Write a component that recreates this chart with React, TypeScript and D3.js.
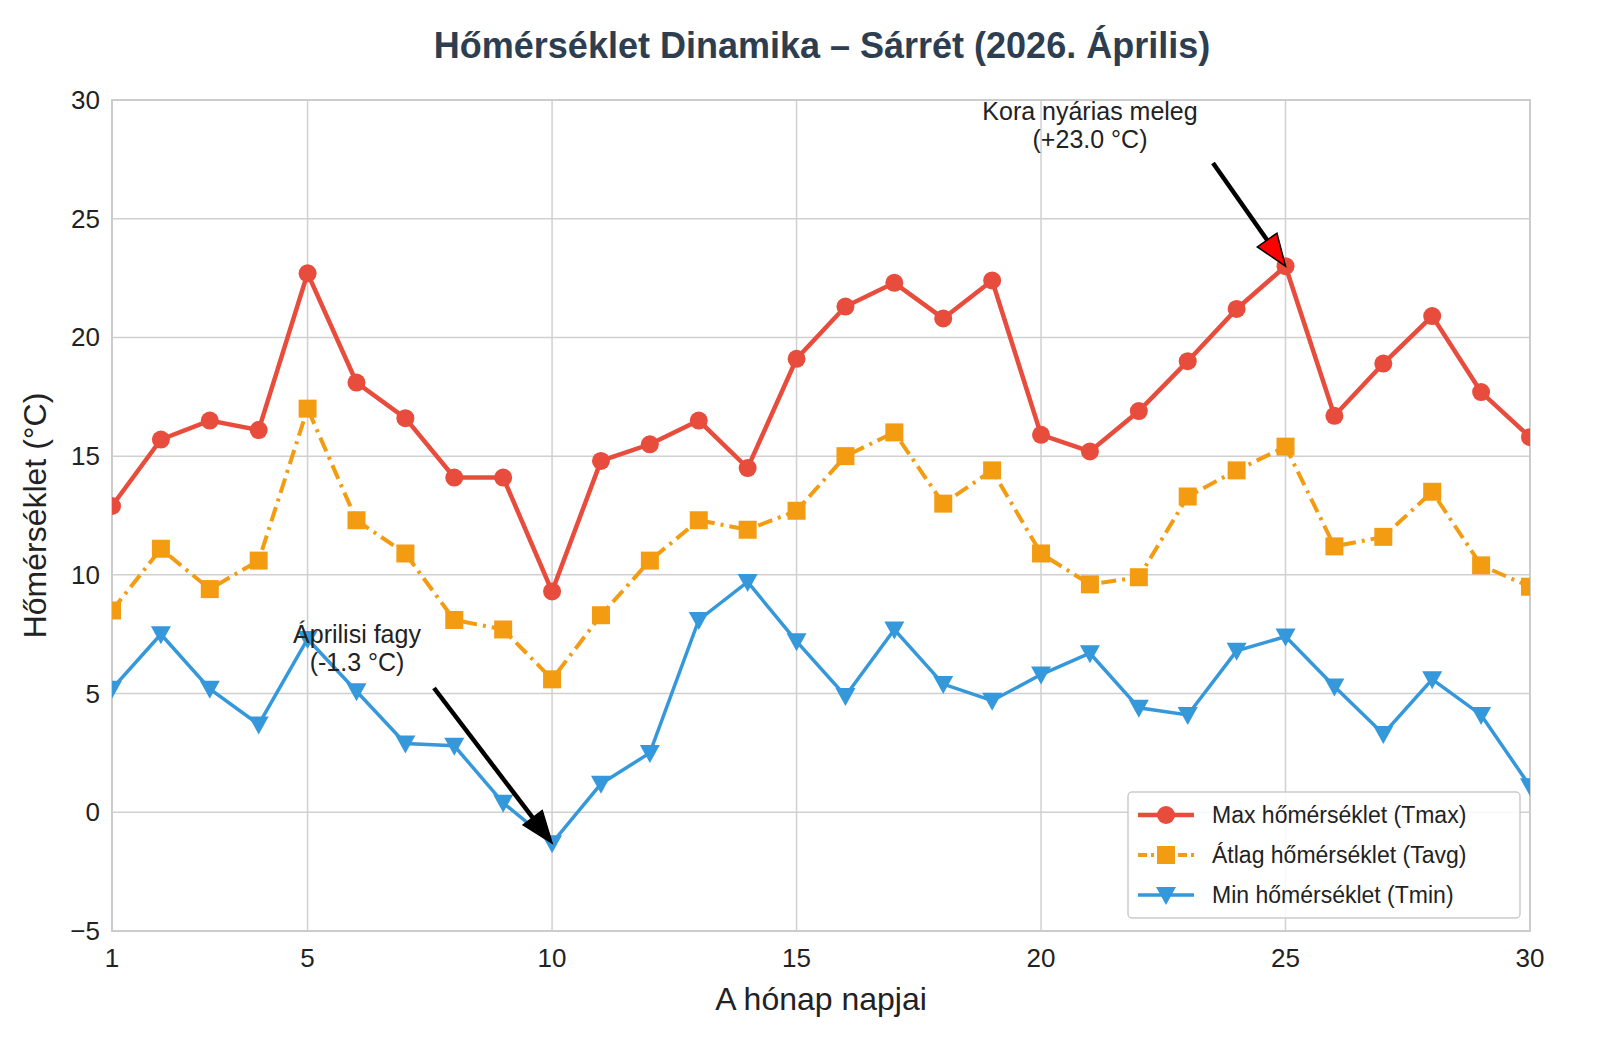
import * as d3 from "d3"
import * as React from "react"

const days = d3.range(1, 31)
const tmax = [12.9, 15.7, 16.5, 16.1, 22.7, 18.1, 16.6, 14.1, 14.1, 9.3, 14.8, 15.5, 16.5, 14.5, 19.1, 21.3, 22.3, 20.8, 22.4, 15.9, 15.2, 16.9, 19.0, 21.2, 23.0, 16.7, 18.9, 20.9, 17.7, 15.8]
const tavg = [8.5, 11.1, 9.4, 10.6, 17.0, 12.3, 10.9, 8.1, 7.7, 5.6, 8.3, 10.6, 12.3, 11.9, 12.7, 15.0, 16.0, 13.0, 14.4, 10.9, 9.6, 9.9, 13.3, 14.4, 15.4, 11.2, 11.6, 13.5, 10.4, 9.5]
const tmin = [5.2, 7.5, 5.2, 3.7, 7.3, 5.1, 2.9, 2.8, 0.4, -1.3, 1.2, 2.5, 8.1, 9.7, 7.2, 4.9, 7.7, 5.4, 4.7, 5.8, 6.7, 4.4, 4.1, 6.8, 7.4, 5.3, 3.3, 5.6, 4.1, 1.1]
const xTicks = [1, 5, 10, 15, 20, 25, 30]
const yTicks = [-5, 0, 5, 10, 15, 20, 25, 30]

const FONT = "Arial, 'Liberation Sans', sans-serif"

function Marker({ kind, x, y, color }) {
  if (kind === "circle") return <circle cx={x} cy={y} r={9} fill={color} />
  if (kind === "square") return <rect x={x - 9} y={y - 9} width={18} height={18} fill={color} />
  return <path d={`M${x - 10},${y - 8} L${x + 10},${y - 8} L${x},${y + 10} Z`} fill={color} />
}

function Arrow({ x1, y1, x2, y2, fill }) {
  const a = Math.atan2(y2 - y1, x2 - x1)
  const L = 32, W = 12
  const bx = x2 - L * Math.cos(a), by = y2 - L * Math.sin(a)
  const px = -Math.sin(a) * W, py = Math.cos(a) * W
  return (
    <g>
      <line x1={x1} y1={y1} x2={bx} y2={by} stroke="#000" strokeWidth={4.5} />
      <path d={`M${x2},${y2} L${bx + px},${by + py} L${bx - px},${by - py} Z`} fill={fill} stroke="#000" strokeWidth={1.5} />
    </g>
  )
}

export default function App() {
  const W = 1600, H = 1056
  const m = { l: 112, r: 1530, t: 100, b: 931 }
  const x = d3.scaleLinear().domain([1, 30]).range([m.l, m.r])
  const y = d3.scaleLinear().domain([-5, 30]).range([m.b, m.t])
  const line = d3.line<number>().x((_, i) => x(days[i])).y(d => y(d))
  const series = [
    { data: tmax, color: "#e74c3c", kind: "circle", dash: null, w: 4.5, label: "Max hőmérséklet (Tmax)" },
    { data: tavg, color: "#f39c12", kind: "square", dash: "15,6,3,6", w: 4, label: "Átlag hőmérséklet (Tavg)" },
    { data: tmin, color: "#3498db", kind: "tri", dash: null, w: 3.5, label: "Min hőmérséklet (Tmin)" },
  ]
  return (
    <svg width={W} height={H} style={{ display: "block", margin: -8 }} fontFamily={FONT}>
      <rect width={W} height={H} fill="#fff" />
      <defs>
        <clipPath id="c"><rect x={m.l} y={m.t} width={m.r - m.l} height={m.b - m.t} /></clipPath>
      </defs>
      {xTicks.map(t => <line key={"gx" + t} x1={x(t)} x2={x(t)} y1={m.t} y2={m.b} stroke="#d0d0d0" strokeWidth={1.5} />)}
      {yTicks.map(t => <line key={"gy" + t} x1={m.l} x2={m.r} y1={y(t)} y2={y(t)} stroke="#d0d0d0" strokeWidth={1.5} />)}
      <rect x={m.l} y={m.t} width={m.r - m.l} height={m.b - m.t} fill="none" stroke="#cccccc" strokeWidth={2} />
      {xTicks.map(t => <text key={"tx" + t} x={x(t)} y={m.b + 36} textAnchor="middle" fontSize={26} fill="#222">{t}</text>)}
      {yTicks.map(t => <text key={"ty" + t} x={m.l - 12} y={y(t) + 9} textAnchor="end" fontSize={26} fill="#222">{t < 0 ? "−" + -t : t}</text>)}
      <g clipPath="url(#c)">
        {series.map(s => (
          <g key={s.label}>
            <path d={line(s.data)} fill="none" stroke={s.color} strokeWidth={s.w} strokeDasharray={s.dash} />
            {s.data.map((v, i) => <Marker key={i} kind={s.kind} x={x(days[i])} y={y(v)} color={s.color} />)}
          </g>
        ))}
      </g>
      <text x={822} y={58} textAnchor="middle" fontSize={36} fontWeight="bold" fill="#2c3e50">Hőmérséklet Dinamika – Sárrét (2026. Április)</text>
      <text x={(m.l + m.r) / 2} y={1010} textAnchor="middle" fontSize={32} fill="#222">A hónap napjai</text>
      <text transform={`translate(46,${(m.t + m.b) / 2}) rotate(-90)`} textAnchor="middle" fontSize={32} fill="#222">Hőmérséklet (°C)</text>
      <text x={1090} y={120} textAnchor="middle" fontSize={25} fill="#222">Kora nyárias meleg</text>
      <text x={1090} y={148} textAnchor="middle" fontSize={25} fill="#222">(+23.0 °C)</text>
      <Arrow x1={1213} y1={163} x2={x(25)} y2={y(23)} fill="red" />
      <text x={357} y={643} textAnchor="middle" fontSize={25} fill="#222">Áprilisi fagy</text>
      <text x={357} y={671} textAnchor="middle" fontSize={25} fill="#222">(-1.3 °C)</text>
      <Arrow x1={434} y1={688} x2={x(10)} y2={y(-1.3)} fill="#000" />
      <g transform="translate(1128,792)">
        <rect width={392} height={126} rx={4} fill="#fff" fillOpacity={0.85} stroke="#cccccc" strokeWidth={1.5} />
        {series.map((s, i) => (
          <g key={s.label} transform={`translate(0,${23 + i * 40})`}>
            <line x1={10} x2={66} y1={0} y2={0} stroke={s.color} strokeWidth={s.w} strokeDasharray={s.dash ? "9,4,3,4" : null} />
            <Marker kind={s.kind} x={38} y={0} color={s.color} />
            <text x={84} y={8} fontSize={23} fill="#222">{s.label}</text>
          </g>
        ))}
      </g>
    </svg>
  )
}
